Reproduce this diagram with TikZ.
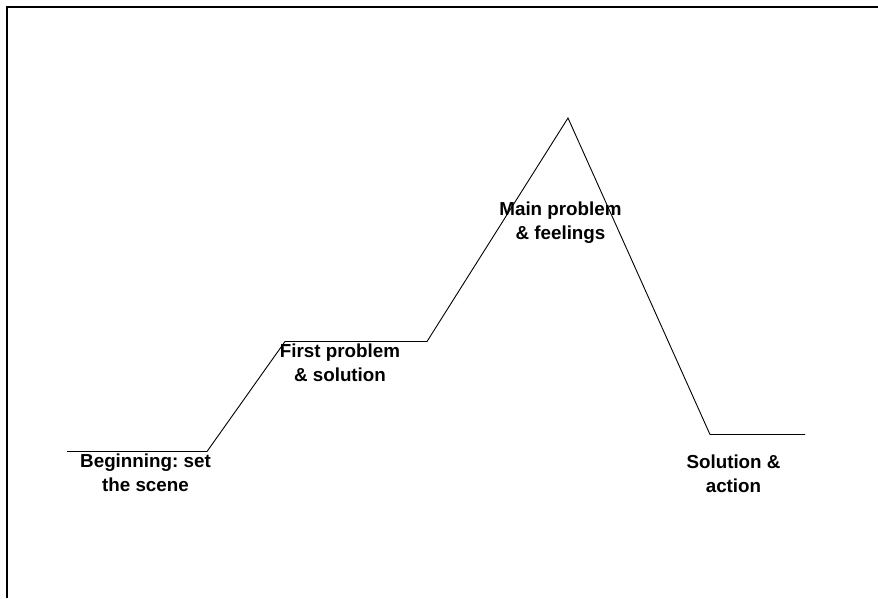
\documentclass[tikz,border=0pt]{standalone}
\usepackage{fontspec}
\setmainfont{Liberation Sans}
\frenchspacing

\begin{document}
\begin{tikzpicture}[x=1pt, y=-1pt, every node/.style={font=\bfseries\fontsize{18.8}{24}\selectfont, align=center, inner sep=0pt, anchor=north}]
    \useasboundingbox (0,0) rectangle (878,598);

    % Frame (cut off at right and bottom)
    \draw[line width=1.6pt] (7,598) -- (7,7) -- (878,7);

    % Points of the story line
    \coordinate (start) at (67,451.5);
    \coordinate (rise1) at (207,451.5);
    \coordinate (flat1) at (285,341.5);
    \coordinate (rise2) at (427,341.5);
    \coordinate (peak) at (568,118);
    \coordinate (fall) at (710,434.5);
    \coordinate (finish) at (805,434.5);

    \draw[line width=0.9pt] (start) -- (rise1) -- (flat1) -- (rise2) -- (peak) -- (fall) -- (finish);

    % Labels
    \node (beginning) at (145.5,454) {Beginning: set\\the scene};
    \node (firstprob) at (340,344) {First problem\\\& solution};
    \node (mainprob) at (560.5,202) {Main problem\\\& feelings};
    \node (solution) at (733.5,455) {Solution \&\\action};
\end{tikzpicture}
\end{document}
